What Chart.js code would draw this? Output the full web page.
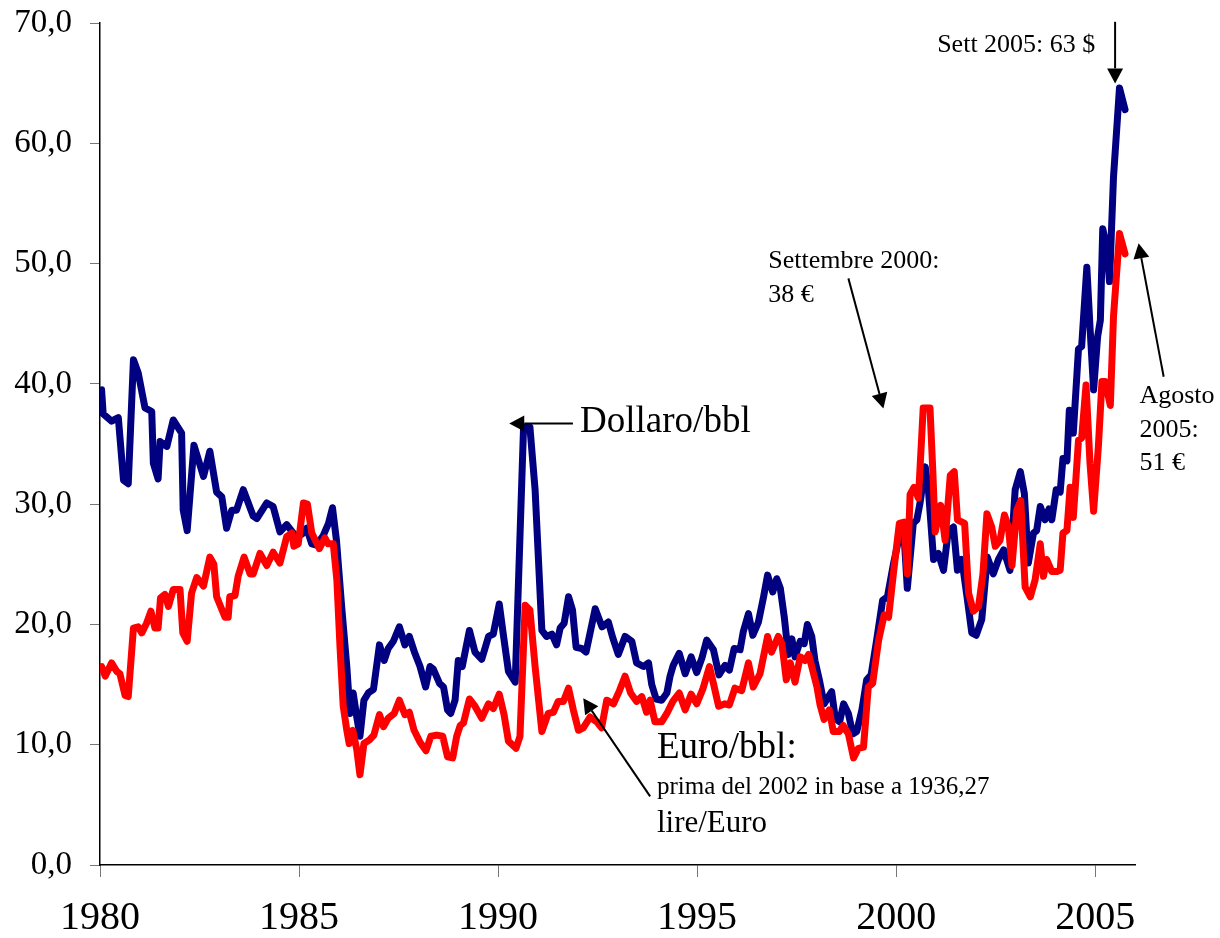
<!DOCTYPE html>
<html>
<head>
<meta charset="utf-8">
<script src="https://cdn.jsdelivr.net/npm/chart.js@4"></script>
<style>
  html, body { margin: 0; padding: 0; background: #fff; }
  #wrap { width: 1220px; height: 938px; }
</style>
</head>
<body>
<div id="wrap"><canvas id="oilChart" width="1220" height="938"></canvas></div>
<script>
// Dollaro/bbl (decimal years)
const dollarYears = [
  1980.04, 1980.08, 1980.29, 1980.46, 1980.59, 1980.71, 1980.84, 1980.96, 1981.13, 1981.30,
  1981.34, 1981.46, 1981.51, 1981.68, 1981.84, 1982.05, 1982.09, 1982.19, 1982.36, 1982.60,
  1982.76, 1982.93, 1983.06, 1983.18, 1983.31, 1983.43, 1983.60, 1983.85, 1983.94, 1984.19,
  1984.35, 1984.52, 1984.69, 1984.90, 1985.07, 1985.19, 1985.32, 1985.44, 1985.61, 1985.74,
  1985.84, 1985.94, 1986.07, 1986.20, 1986.28, 1986.36, 1986.45, 1986.53, 1986.63, 1986.74,
  1986.87, 1987.02, 1987.14, 1987.24, 1987.37, 1987.52, 1987.66, 1987.77, 1987.91, 1988.04,
  1988.18, 1988.29, 1988.37, 1988.53, 1988.63, 1988.73, 1988.81, 1988.92, 1989.00, 1989.10,
  1989.28, 1989.42, 1989.59, 1989.76, 1989.88, 1990.03, 1990.13, 1990.26, 1990.43, 1990.64,
  1990.80, 1990.93, 1991.10, 1991.22, 1991.35, 1991.47, 1991.56, 1991.66, 1991.77, 1991.87,
  1991.96, 1992.10, 1992.21, 1992.44, 1992.61, 1992.77, 1992.88, 1993.02, 1993.19, 1993.36,
  1993.48, 1993.65, 1993.78, 1993.86, 1993.97, 1994.11, 1994.24, 1994.32, 1994.40, 1994.55,
  1994.70, 1994.85, 1994.99, 1995.12, 1995.24, 1995.41, 1995.55, 1995.70, 1995.81, 1995.93,
  1996.08, 1996.16, 1996.29, 1996.40, 1996.54, 1996.67, 1996.77, 1996.90, 1997.00, 1997.09,
  1997.19, 1997.29, 1997.38, 1997.46, 1997.59, 1997.69, 1997.77, 1997.88, 1997.96, 1998.07,
  1998.19, 1998.30, 1998.38, 1998.47, 1998.58, 1998.68, 1998.80, 1998.91, 1999.01, 1999.14,
  1999.26, 1999.37, 1999.51, 1999.66, 1999.78, 1999.93, 2000.06, 2000.18, 2000.28, 2000.43,
  2000.52, 2000.60, 2000.73, 2000.81, 2000.94, 2001.06, 2001.19, 2001.31, 2001.44, 2001.54,
  2001.65, 2001.78, 2001.90, 2002.01, 2002.15, 2002.29, 2002.44, 2002.57, 2002.70, 2002.86,
  2002.99, 2003.12, 2003.22, 2003.32, 2003.45, 2003.53, 2003.62, 2003.74, 2003.84, 2003.91,
  2004.02, 2004.12, 2004.19, 2004.29, 2004.35, 2004.45, 2004.58, 2004.66, 2004.79, 2004.87,
  2004.96, 2005.06, 2005.13, 2005.19, 2005.29, 2005.36, 2005.46, 2005.61, 2005.75
];
const dollarValues = [
  39.5, 37.5, 36.9, 37.2, 32.0, 31.7, 42.0, 40.9, 38.0, 37.7,
  33.4, 32.1, 35.2, 34.8, 37.0, 35.9, 29.5, 27.8, 34.9, 32.3,
  34.4, 31.0, 30.6, 28.0, 29.5, 29.5, 31.2, 29.0, 28.8, 30.1,
  29.8, 27.7, 28.3, 27.4, 27.5, 28.0, 26.7, 26.6, 27.4, 28.4,
  29.7, 27.0, 21.5, 16.5, 12.6, 14.3, 12.3, 10.7, 13.7, 14.3,
  14.6, 18.3, 17.0, 18.0, 18.6, 19.8, 18.3, 19.0, 17.6, 16.5,
  14.8, 16.5, 16.3, 15.1, 14.8, 12.9, 12.6, 13.7, 17.0, 16.5,
  19.5, 17.7, 17.1, 19.0, 19.2, 21.7, 19.2, 16.1, 15.2, 36.4,
  36.4, 31.2, 19.5, 19.0, 19.2, 18.3, 19.7, 20.1, 22.3, 21.2,
  18.1, 18.0, 17.7, 21.3, 19.8, 20.2, 18.9, 17.5, 19.0, 18.6,
  16.8, 16.5, 16.8, 15.0, 13.8, 13.7, 14.3, 15.7, 16.6, 17.6,
  15.9, 17.3, 16.0, 17.2, 18.7, 17.9, 15.8, 16.6, 16.2, 18.0,
  17.9, 19.4, 20.9, 19.1, 20.2, 22.3, 24.1, 22.7, 23.8, 23.0,
  20.6, 17.5, 18.8, 17.3, 18.6, 18.4, 20.0, 19.0, 17.0, 15.4,
  13.4, 14.0, 14.4, 12.2, 11.9, 13.4, 12.6, 10.9, 11.1, 12.9,
  15.4, 15.8, 18.7, 22.0, 22.3, 25.0, 27.0, 28.4, 23.0, 28.4,
  28.7, 30.1, 33.1, 31.2, 25.4, 25.9, 24.5, 27.8, 28.1, 24.5,
  25.4, 22.3, 19.3, 19.1, 20.4, 25.6, 24.2, 25.4, 26.2, 24.5,
  31.2, 32.7, 30.9, 25.1, 27.6, 27.8, 29.8, 28.7, 29.6, 28.7,
  31.2, 31.0, 33.8, 33.6, 37.8, 35.9, 42.9, 43.1, 49.7, 44.7,
  39.5, 43.9, 45.3, 52.9, 51.4, 48.5, 57.2, 64.6, 62.8
];

// Euro/bbl (decimal years)
const euroYears = [
  1980.04, 1980.13, 1980.29, 1980.42, 1980.50, 1980.63, 1980.71, 1980.84, 1980.96, 1981.05,
  1981.17, 1981.28, 1981.38, 1981.46, 1981.52, 1981.63, 1981.72, 1981.84, 1982.01, 1982.08,
  1982.19, 1982.30, 1982.43, 1982.60, 1982.76, 1982.86, 1982.93, 1983.14, 1983.22, 1983.26,
  1983.39, 1983.47, 1983.62, 1983.77, 1983.85, 1984.02, 1984.19, 1984.35, 1984.52, 1984.69,
  1984.82, 1984.87, 1984.98, 1985.11, 1985.21, 1985.32, 1985.51, 1985.65, 1985.73, 1985.86,
  1985.95, 1986.03, 1986.11, 1986.20, 1986.26, 1986.35, 1986.45, 1986.53, 1986.63, 1986.77,
  1986.88, 1987.02, 1987.12, 1987.24, 1987.39, 1987.52, 1987.66, 1987.77, 1987.89, 1988.04,
  1988.19, 1988.31, 1988.46, 1988.61, 1988.73, 1988.86, 1988.96, 1989.05, 1989.13, 1989.28,
  1989.42, 1989.59, 1989.76, 1989.88, 1990.03, 1990.15, 1990.26, 1990.45, 1990.55, 1990.68,
  1990.80, 1990.93, 1991.10, 1991.26, 1991.39, 1991.51, 1991.64, 1991.77, 1991.89, 1992.02,
  1992.14, 1992.31, 1992.48, 1992.60, 1992.73, 1992.90, 1993.05, 1993.19, 1993.33, 1993.48,
  1993.61, 1993.73, 1993.82, 1993.94, 1994.11, 1994.24, 1994.39, 1994.55, 1994.70, 1994.85,
  1994.99, 1995.14, 1995.31, 1995.41, 1995.54, 1995.70, 1995.81, 1995.95, 1996.12, 1996.29,
  1996.41, 1996.58, 1996.77, 1996.87, 1997.04, 1997.13, 1997.24, 1997.34, 1997.46, 1997.59,
  1997.71, 1997.80, 1997.88, 1998.01, 1998.09, 1998.19, 1998.32, 1998.42, 1998.57, 1998.67,
  1998.80, 1998.93, 1999.05, 1999.18, 1999.30, 1999.41, 1999.56, 1999.70, 1999.81, 1999.93,
  2000.08, 2000.20, 2000.28, 2000.35, 2000.45, 2000.56, 2000.68, 2000.85, 2000.92, 2000.98,
  2001.12, 2001.23, 2001.36, 2001.46, 2001.54, 2001.72, 2001.82, 2001.94, 2002.07, 2002.18,
  2002.28, 2002.40, 2002.49, 2002.61, 2002.72, 2002.82, 2002.91, 2003.03, 2003.13, 2003.24,
  2003.37, 2003.49, 2003.62, 2003.70, 2003.78, 2003.91, 2004.04, 2004.12, 2004.19, 2004.29,
  2004.37, 2004.45, 2004.58, 2004.66, 2004.77, 2004.87, 2004.96, 2005.08, 2005.17, 2005.25,
  2005.38, 2005.46, 2005.61, 2005.75
];
const euroValues = [
  16.5, 15.7, 16.8, 16.1, 15.9, 14.1, 14.0, 19.7, 19.8, 19.3,
  20.1, 21.1, 19.7, 19.7, 22.2, 22.5, 21.5, 22.9, 22.9, 19.3,
  18.6, 22.6, 23.9, 23.2, 25.6, 25.0, 22.3, 20.6, 20.6, 22.3,
  22.4, 24.0, 25.6, 24.2, 24.2, 25.9, 24.9, 26.0, 25.1, 27.3,
  27.6, 26.5, 26.7, 30.1, 30.0, 27.6, 26.3, 27.2, 26.7, 26.7,
  23.7, 18.1, 13.2, 11.2, 10.1, 11.2, 9.6, 7.5, 10.1, 10.4,
  10.8, 12.5, 11.5, 12.2, 12.6, 13.7, 12.5, 12.7, 11.2, 10.2,
  9.5, 10.7, 10.8, 10.7, 9.0, 8.9, 10.7, 11.6, 11.8, 13.8,
  13.2, 12.2, 13.4, 13.0, 14.2, 12.5, 10.3, 9.7, 10.7, 21.6,
  21.2, 16.5, 11.1, 12.6, 12.7, 13.6, 13.6, 14.7, 12.9, 11.2,
  11.4, 12.3, 11.9, 11.4, 13.7, 13.4, 14.5, 15.7, 14.3, 13.6,
  14.0, 12.7, 13.7, 11.9, 11.9, 12.6, 13.6, 14.3, 12.9, 14.2,
  13.4, 14.6, 16.5, 15.1, 13.2, 13.4, 13.3, 14.7, 14.5, 16.8,
  14.8, 15.9, 19.0, 17.7, 19.0, 18.4, 15.4, 16.8, 15.2, 17.3,
  17.0, 17.5, 16.5, 14.8, 13.3, 12.1, 12.9, 11.1, 11.1, 11.6,
  10.9, 8.9, 9.7, 9.8, 14.8, 15.1, 18.7, 20.8, 20.6, 24.2,
  28.4, 28.5, 24.2, 30.8, 31.4, 30.5, 38.0, 38.0, 32.8, 27.7,
  29.9, 27.0, 32.4, 32.7, 28.7, 28.4, 22.6, 21.1, 21.5, 24.2,
  29.2, 28.1, 26.5, 27.0, 29.1, 28.1, 24.9, 29.5, 30.3, 23.1,
  22.3, 23.7, 26.7, 24.0, 25.4, 24.4, 24.4, 24.5, 27.6, 27.8,
  31.4, 28.9, 35.3, 35.5, 39.9, 33.4, 29.4, 34.8, 40.2, 40.2,
  38.2, 45.6, 52.5, 50.8
];

const xTicks = [1980, 1985, 1990, 1995, 2000, 2005];
const yTicks = [0, 10, 20, 30, 40, 50, 60, 70];

// Text notes placed in data units (year, value)
const noteLabels = [
  { text: 'Dollaro/bbl', size: 37, year: 1992.06, value: 36.0 },
  { text: 'Euro/bbl:', size: 37, year: 1993.99, value: 8.9 },
  { text: 'prima del 2002 in base a 1936,27', size: 25, year: 1993.99, value: 5.9 },
  { text: 'lire/Euro', size: 31, year: 1993.99, value: 2.75 },
  { text: 'Settembre 2000:', size: 26, year: 1996.79, value: 49.6 },
  { text: '38 €', size: 26, year: 1996.79, value: 46.8 },
  { text: 'Sett 2005: 63 $', size: 26, year: 2001.03, value: 67.6 },
  { text: 'Agosto', size: 26, year: 2006.11, value: 38.4 },
  { text: '2005:', size: 26, year: 2006.11, value: 35.6 },
  { text: '51 €', size: 26, year: 2006.11, value: 32.85 }
];
const noteArrows = [
  { from: [1991.88, 36.7], to: [1990.28, 36.7] },
  { from: [1993.82, 5.7], to: [1992.14, 13.86] },
  { from: [1998.80, 48.77], to: [1999.68, 37.96] },
  { from: [2005.50, 70.1], to: [2005.50, 64.98] },
  { from: [2006.72, 40.59], to: [2006.09, 51.68] }
];

const serif = '"Liberation Serif", "Times New Roman", serif';

const notesPlugin = {
  id: 'notes',
  afterDraw(chart) {
    const { ctx, scales: { x, y } } = chart;
    ctx.save();
    ctx.fillStyle = '#000';
    ctx.textBaseline = 'alphabetic';
    ctx.textAlign = 'left';
    noteLabels.forEach(n => {
      ctx.font = n.size + 'px ' + serif;
      ctx.fillText(n.text, x.getPixelForValue(n.year), y.getPixelForValue(n.value));
    });
    ctx.strokeStyle = '#000';
    ctx.lineWidth = 2;
    noteArrows.forEach(a => {
      const x0 = x.getPixelForValue(a.from[0]), y0 = y.getPixelForValue(a.from[1]);
      const x1 = x.getPixelForValue(a.to[0]), y1 = y.getPixelForValue(a.to[1]);
      const ang = Math.atan2(y1 - y0, x1 - x0);
      const len = 15, half = 8;
      const bx = x1 - len * Math.cos(ang), by = y1 - len * Math.sin(ang);
      ctx.beginPath();
      ctx.moveTo(x0, y0);
      ctx.lineTo(bx, by);
      ctx.stroke();
      ctx.beginPath();
      ctx.moveTo(x1, y1);
      ctx.lineTo(bx + half * Math.sin(ang), by - half * Math.cos(ang));
      ctx.lineTo(bx - half * Math.sin(ang), by + half * Math.cos(ang));
      ctx.closePath();
      ctx.fill();
    });
    ctx.restore();
  }
};

const ctx = document.getElementById('oilChart').getContext('2d');
new Chart(ctx, {
  type: 'line',
  data: {
    datasets: [
      {
        label: 'Euro/bbl',
        data: euroYears.map((yr, i) => ({ x: yr, y: euroValues[i] })),
        borderColor: '#ff0000',
        borderWidth: 7,
        pointRadius: 0,
        tension: 0,
        borderJoinStyle: 'round',
        borderCapStyle: 'round',
        order: 0
      },
      {
        label: 'Dollaro/bbl',
        data: dollarYears.map((yr, i) => ({ x: yr, y: dollarValues[i] })),
        borderColor: '#000080',
        borderWidth: 7,
        pointRadius: 0,
        tension: 0,
        borderJoinStyle: 'round',
        borderCapStyle: 'round',
        order: 1
      }
    ]
  },
  options: {
    responsive: false,
    animation: false,
    layout: { padding: { left: 0, right: 85, top: 23, bottom: 0 } },
    plugins: {
      legend: { display: false },
      tooltip: { enabled: false }
    },
    scales: {
      x: {
        type: 'linear',
        min: 1980,
        max: 2006,
        afterBuildTicks: s => { s.ticks = xTicks.map(v => ({ value: v })); },
        afterFit: s => { s.height = 73; s.paddingLeft = 0; s.paddingRight = 0; },
        ticks: {
          color: '#000',
          font: { family: serif, size: 40 },
          padding: 17,
          maxRotation: 0,
          autoSkip: false,
          callback: v => String(v)
        },
        grid: { drawOnChartArea: false, drawTicks: true, tickLength: 12, color: '#777' },
        border: { color: '#000', width: 1.5 }
      },
      y: {
        min: 0,
        max: 70,
        afterBuildTicks: s => { s.ticks = yTicks.map(v => ({ value: v })); },
        afterFit: s => { s.width = 100; s.paddingTop = 0; s.paddingBottom = 0; },
        ticks: {
          color: '#000',
          font: { family: serif, size: 33 },
          padding: 18,
          callback: v => v.toFixed(1).replace('.', ',')
        },
        grid: { drawOnChartArea: false, drawTicks: true, tickLength: 10, color: '#777' },
        border: { color: '#000', width: 1.5 }
      }
    }
  },
  plugins: [notesPlugin]
});
</script>
</body>
</html>
